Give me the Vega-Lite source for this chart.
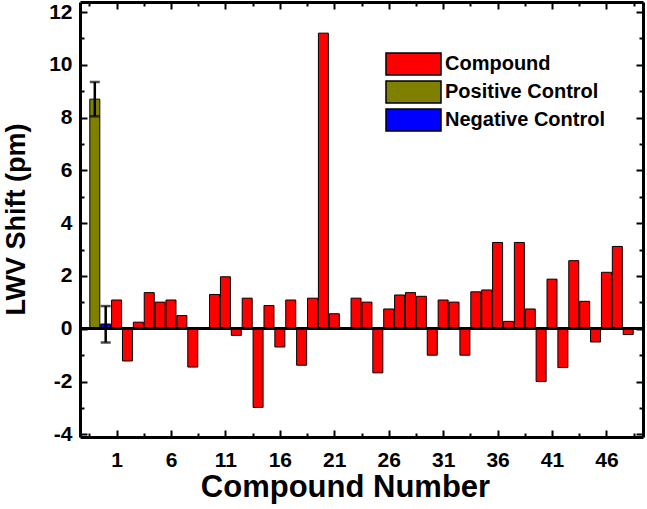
{
  "$schema": "https://vega.github.io/schema/vega-lite/v6.json",
  "width": 563,
  "height": 435,
  "autosize": {"type": "none"},
  "padding": {"left": 80, "top": 2, "right": 4, "bottom": 72},
  "background": "white",
  "config": {"view": {"stroke": null}, "font": "Liberation Sans"},
  "data": {
    "values": [
      {"pos": -1, "value": 8.7, "type": "Positive Control", "lo": 8.05, "hi": 9.35},
      {"pos": 0, "value": 0.18, "type": "Negative Control", "lo": -0.52, "hi": 0.86},
      {"pos": 1, "value": 1.09, "type": "Compound"},
      {"pos": 2, "value": -1.22, "type": "Compound"},
      {"pos": 3, "value": 0.25, "type": "Compound"},
      {"pos": 4, "value": 1.37, "type": "Compound"},
      {"pos": 5, "value": 1.01, "type": "Compound"},
      {"pos": 6, "value": 1.09, "type": "Compound"},
      {"pos": 7, "value": 0.5, "type": "Compound"},
      {"pos": 8, "value": -1.45, "type": "Compound"},
      {"pos": 9, "value": 0.04, "type": "Compound"},
      {"pos": 10, "value": 1.3, "type": "Compound"},
      {"pos": 11, "value": 1.97, "type": "Compound"},
      {"pos": 12, "value": -0.25, "type": "Compound"},
      {"pos": 13, "value": 1.16, "type": "Compound"},
      {"pos": 14, "value": -2.98, "type": "Compound"},
      {"pos": 15, "value": 0.88, "type": "Compound"},
      {"pos": 16, "value": -0.69, "type": "Compound"},
      {"pos": 17, "value": 1.09, "type": "Compound"},
      {"pos": 18, "value": -1.38, "type": "Compound"},
      {"pos": 19, "value": 1.16, "type": "Compound"},
      {"pos": 20, "value": 11.2, "type": "Compound"},
      {"pos": 21, "value": 0.57, "type": "Compound"},
      {"pos": 22, "value": 0, "type": "Compound"},
      {"pos": 23, "value": 1.16, "type": "Compound"},
      {"pos": 24, "value": 1.01, "type": "Compound"},
      {"pos": 25, "value": -1.67, "type": "Compound"},
      {"pos": 26, "value": 0.75, "type": "Compound"},
      {"pos": 27, "value": 1.28, "type": "Compound"},
      {"pos": 28, "value": 1.37, "type": "Compound"},
      {"pos": 29, "value": 1.23, "type": "Compound"},
      {"pos": 30, "value": -1.0, "type": "Compound"},
      {"pos": 31, "value": 1.09, "type": "Compound"},
      {"pos": 32, "value": 1.01, "type": "Compound"},
      {"pos": 33, "value": -1.0, "type": "Compound"},
      {"pos": 34, "value": 1.4, "type": "Compound"},
      {"pos": 35, "value": 1.47, "type": "Compound"},
      {"pos": 36, "value": 3.27, "type": "Compound"},
      {"pos": 37, "value": 0.28, "type": "Compound"},
      {"pos": 38, "value": 3.27, "type": "Compound"},
      {"pos": 39, "value": 0.75, "type": "Compound"},
      {"pos": 40, "value": -2.0, "type": "Compound"},
      {"pos": 41, "value": 1.88, "type": "Compound"},
      {"pos": 42, "value": -1.47, "type": "Compound"},
      {"pos": 43, "value": 2.58, "type": "Compound"},
      {"pos": 44, "value": 1.04, "type": "Compound"},
      {"pos": 45, "value": -0.5, "type": "Compound"},
      {"pos": 46, "value": 2.14, "type": "Compound"},
      {"pos": 47, "value": 3.12, "type": "Compound"},
      {"pos": 48, "value": -0.22, "type": "Compound"}
    ]
  },
  "layer": [
    {
      "mark": {"type": "bar", "size": 10, "stroke": "black", "strokeWidth": 1},
      "encoding": {
        "x": {
          "field": "pos", "type": "quantitative",
          "scale": {"domain": [-1.9, 48.9], "nice": false},
          "axis": {
            "orient": "bottom",
            "values": [-1.5, 1, 3.5, 6, 8.5, 11, 13.5, 16, 18.5, 21, 23.5, 26, 28.5, 31, 33.5, 36, 38.5, 41, 43.5, 46, 48.5],
            "title": "Compound Number",
            "titleFont": "Liberation Sans", "titleFontSize": 31, "titleFontWeight": "bold", "titleColor": "black",
            "titleX": 265, "titleY": 35, "titleBaseline": "top", "titleAlign": "center",
            "labelExpr": "(datum.value - 1) % 5 === 0 ? toString(datum.value) : ''",
            "labelFont": "Liberation Sans", "labelFontSize": 21, "labelFontWeight": "bold", "labelColor": "black",
            "labelPadding": 19, "labelFlush": false, "labelOverlap": false, "labelBound": false,
            "tickSize": {"condition": {"test": "(datum.value - 1) % 5 === 0", "value": -7}, "value": -4},
            "tickColor": "black", "tickWidth": 2,
            "domainColor": "black", "domainWidth": 3, "grid": false
          }
        },
        "y": {
          "field": "value", "type": "quantitative",
          "scale": {"domain": [-4.1, 12.38], "nice": false},
          "axis": {
            "orient": "left",
            "values": [-4, -3, -2, -1, 0, 1, 2, 3, 4, 5, 6, 7, 8, 9, 10, 11, 12],
            "title": "LWV Shift (pm)",
            "titleFont": "Liberation Sans", "titleFontSize": 27, "titleFontWeight": "bold", "titleColor": "black",
            "titleX": -56, "titleY": 217, "titleBaseline": "alphabetic",
            "labelExpr": "datum.value % 2 === 0 ? toString(datum.value) : ''",
            "labelFont": "Liberation Sans", "labelFontSize": 21, "labelFontWeight": "bold", "labelColor": "black",
            "labelPadding": 15, "labelFlush": false, "labelOverlap": false, "labelBound": false,
            "tickSize": {"condition": {"test": "datum.value % 2 === 0", "value": -7}, "value": -4},
            "tickColor": "black", "tickWidth": 2,
            "domainColor": "black", "domainWidth": 3, "grid": false
          }
        },
        "color": {
          "field": "type", "type": "nominal",
          "scale": {"domain": ["Compound", "Positive Control", "Negative Control"], "range": ["#ff0000", "#808000", "#0000ff"]},
          "legend": {
            "orient": "none", "legendX": 321.5, "legendY": 50, "title": null,
            "symbolType": "M-2.5,-1H2.5V1H-2.5Z", "symbolSize": 484,
            "symbolStrokeColor": "black", "symbolStrokeWidth": 1.5, "symbolOpacity": 1,
            "labelFont": "Liberation Sans", "labelFontSize": 20, "labelFontWeight": "bold", "labelColor": "black",
            "labelLimit": 400,
            "labelOffset": 19.5, "rowPadding": 0, "padding": 0
          }
        }
      }
    },
    {
      "mark": {"type": "rule", "color": "black", "strokeWidth": 2},
      "encoding": {
        "y": {"datum": 0, "type": "quantitative", "scale": {"domain": [-4.1, 12.38], "nice": false}, "axis": null}
      }
    },
    {
      "transform": [{"filter": "isValid(datum.lo)"}],
      "mark": {"type": "errorbar", "color": "black", "thickness": 2.5, "ticks": {"size": 10, "color": "black", "thickness": 2.5}},
      "encoding": {
        "x": {"field": "pos", "type": "quantitative", "scale": {"domain": [-1.9, 48.9], "nice": false}, "axis": null},
        "y": {"field": "lo", "type": "quantitative", "scale": {"domain": [-4.1, 12.38], "nice": false}, "axis": null},
        "y2": {"field": "hi"}
      }
    },
    {
      "mark": {"type": "point", "opacity": 0},
      "encoding": {
        "x": {
          "field": "pos", "type": "quantitative",
          "scale": {"domain": [-1.9, 48.9], "nice": false},
          "axis": {
            "orient": "top",
            "values": [-1.5, 1, 3.5, 6, 8.5, 11, 13.5, 16, 18.5, 21, 23.5, 26, 28.5, 31, 33.5, 36, 38.5, 41, 43.5, 46, 48.5],
            "title": null, "labels": false,
            "tickSize": {"condition": {"test": "(datum.value - 1) % 5 === 0", "value": -7}, "value": -4},
            "tickColor": "black", "tickWidth": 2,
            "domainColor": "black", "domainWidth": 3, "grid": false
          }
        },
        "y": {
          "field": "value", "type": "quantitative",
          "scale": {"domain": [-4.1, 12.38], "nice": false},
          "axis": {
            "orient": "right",
            "values": [-4, -3, -2, -1, 0, 1, 2, 3, 4, 5, 6, 7, 8, 9, 10, 11, 12],
            "title": null, "labels": false,
            "tickSize": {"condition": {"test": "datum.value % 2 === 0", "value": -7}, "value": -4},
            "tickColor": "black", "tickWidth": 2,
            "domainColor": "black", "domainWidth": 3, "grid": false
          }
        }
      }
    }
  ],
  "resolve": {"axis": {"x": "independent", "y": "independent"}}
}
